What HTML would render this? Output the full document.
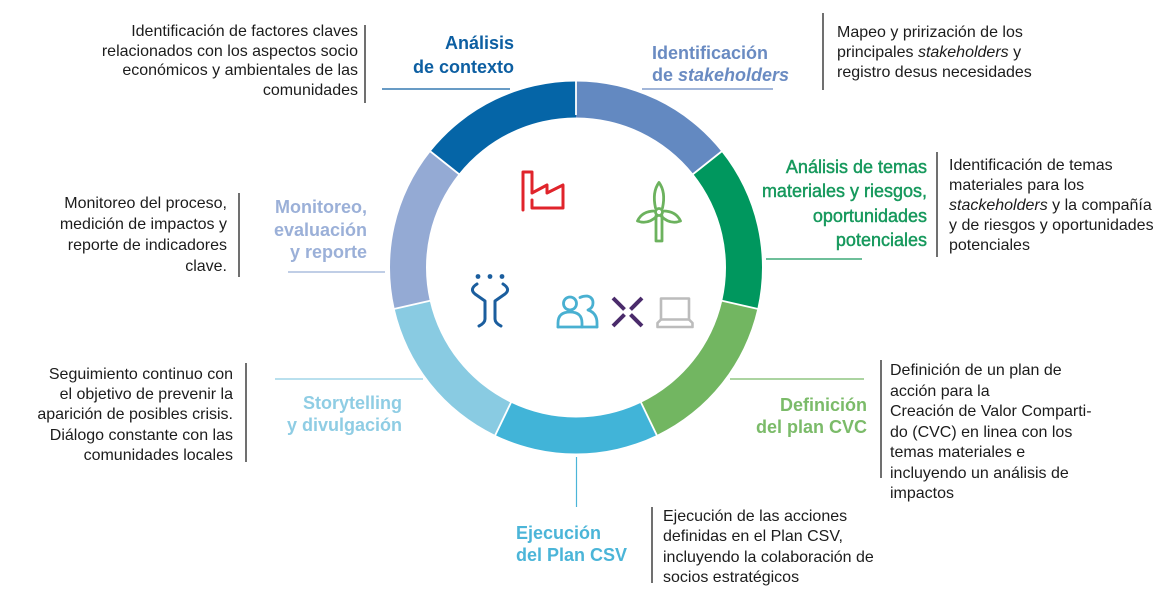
<!DOCTYPE html>
<html>
<head>
<meta charset="utf-8">
<style>
  html,body{margin:0;padding:0;background:#fff;}
  #wrap{position:relative;width:1170px;height:607px;overflow:hidden;background:#fff;font-family:"Liberation Sans",Arial,sans-serif;}
  svg{position:absolute;left:0;top:0;}
  .t{position:absolute;font-size:16px;line-height:20px;color:#1c1c1c;white-space:nowrap;}
  .r{text-align:right;}
  .h{position:absolute;font-size:18px;line-height:23px;font-weight:bold;white-space:nowrap;}
</style>
</head>
<body>
<div id="wrap">
<svg width="1170" height="607" viewBox="0 0 1170 607">
  <!-- ring segments -->
  <path d="M576,81.5 A186,186 0 0 1 721.42,151.53 L693.27,173.98 A150,150 0 0 0 576,117.5 Z" fill="#6389c1"/>
  <path d="M721.42,151.53 A186,186 0 0 1 757.34,308.89 L722.24,300.88 A150,150 0 0 0 693.27,173.98 Z" fill="#00975e"/>
  <path d="M757.34,308.89 A186,186 0 0 1 656.70,435.08 L641.08,402.65 A150,150 0 0 0 722.24,300.88 Z" fill="#72b661"/>
  <path d="M656.70,435.08 A186,186 0 0 1 495.30,435.08 L510.92,402.65 A150,150 0 0 0 641.08,402.65 Z" fill="#41b4d8"/>
  <path d="M495.30,435.08 A186,186 0 0 1 394.66,308.89 L429.76,300.88 A150,150 0 0 0 510.92,402.65 Z" fill="#89cbe2"/>
  <path d="M394.66,308.89 A186,186 0 0 1 430.58,151.53 L458.73,173.98 A150,150 0 0 0 429.76,300.88 Z" fill="#94aad4"/>
  <path d="M430.58,151.53 A186,186 0 0 1 576,81.5 L576,117.5 A150,150 0 0 0 458.73,173.98 Z" fill="#0565a7"/>
  <!-- white separators -->
  <g stroke="#fff" stroke-width="1.8">
    <line x1="576" y1="115" x2="576" y2="79"/>
    <line x1="691.3" y1="175.5" x2="723.4" y2="150"/>
    <line x1="719.8" y1="300.3" x2="759.8" y2="309.4"/>
    <line x1="640" y1="400.4" x2="657.8" y2="437.3"/>
    <line x1="512" y1="400.4" x2="494.2" y2="437.3"/>
    <line x1="432.2" y1="300.3" x2="392.2" y2="309.4"/>
    <line x1="460.7" y1="175.5" x2="428.6" y2="150"/>
  </g>

  <!-- colored connector lines -->
  <line x1="382" y1="89" x2="510" y2="89" stroke="#0d5fa2" stroke-width="1.2"/>
  <line x1="642" y1="89" x2="773" y2="89" stroke="#6a8bc2" stroke-width="1.2"/>
  <line x1="766" y1="259" x2="862" y2="259" stroke="#17995d" stroke-width="1.2"/>
  <line x1="288" y1="272" x2="385" y2="272" stroke="#9bb0d8" stroke-width="1.2"/>
  <line x1="275" y1="379" x2="423" y2="379" stroke="#8fcde4" stroke-width="1.2"/>
  <line x1="730" y1="379" x2="864" y2="379" stroke="#7bbb69" stroke-width="1.2"/>
  <line x1="576.5" y1="457" x2="576.5" y2="507" stroke="#4bb5d8" stroke-width="1.2"/>

  <!-- black separators -->
  <g stroke="#222" stroke-width="1.3">
    <line x1="365" y1="25" x2="365" y2="103"/>
    <line x1="823" y1="13" x2="823" y2="90"/>
    <line x1="937" y1="152" x2="937" y2="257"/>
    <line x1="239" y1="193" x2="239" y2="277"/>
    <line x1="246" y1="363" x2="246" y2="462"/>
    <line x1="881" y1="360" x2="881" y2="478"/>
    <line x1="652" y1="507" x2="652" y2="583"/>
  </g>

  <!-- factory icon -->
  <g fill="none" stroke="#e0242b" stroke-width="3" stroke-linejoin="round" stroke-linecap="round">
    <path d="M523,210 L523,172 L532,172 L532,193 L547,185 L547,193 L563,185 L563,208 L532,208 L532,200"/>
  </g>
  <!-- wind turbine icon -->
  <g fill="none" stroke="#6cb25e" stroke-width="2.8" stroke-linejoin="round" stroke-linecap="round">
    <path d="M656,216 L656,241 L662,241 L662,216"/>
    <path d="M655.5,208 Q652,192 659,182.5 Q666,192 662.5,208"/>
    <path d="M655,211 Q642,211 637.5,221 Q648,225 657,216"/>
    <path d="M663,211 Q676,211 680.5,221 Q670,225 661,216"/>
    <circle cx="659" cy="212" r="3.5"/>
  </g>
  <!-- blue figure icon -->
  <g fill="none" stroke="#1b5e9e" stroke-width="3" stroke-linecap="round" stroke-linejoin="round">
    <path d="M477,284 Q469,289 475,294 L485,301 L485,319 Q485,323 479,326"/>
    <path d="M503,284 Q511,289 505,294 L495,301 L495,319 Q495,323 501,326"/>
  </g>
  <g fill="#1b5e9e">
    <circle cx="478" cy="276.5" r="2.4"/>
    <circle cx="490" cy="276.5" r="2.4"/>
    <circle cx="502" cy="276.5" r="2.4"/>
  </g>
  <!-- people icon -->
  <g fill="none" stroke="#49b0d1" stroke-width="2.8" stroke-linejoin="round" stroke-linecap="round">
    <circle cx="570" cy="303.5" r="6.5"/>
    <path d="M558,327 L558,323 Q558,312 570,312 Q582,312 582,323 L582,327"/>
    <path d="M580,297.5 Q583,296 587,296 Q593,297 593,303 Q593,308 588,310 Q597,313 597,323 L597,327"/>
    <line x1="558" y1="327" x2="597" y2="327"/>
  </g>
  <!-- X icon -->
  <g stroke="#4a2b6b" stroke-width="4" stroke-linecap="butt">
    <line x1="613" y1="298" x2="624.5" y2="309.5"/>
    <line x1="642" y1="298" x2="630.5" y2="309.5"/>
    <line x1="613" y1="326" x2="624.5" y2="314.5"/>
    <line x1="642" y1="326" x2="630.5" y2="314.5"/>
  </g>
  <!-- laptop icon -->
  <g fill="none" stroke="#bcbcbc" stroke-width="2.6" stroke-linejoin="round">
    <rect x="661" y="298.5" width="28" height="21"/>
    <path d="M661,319.5 L657.5,323 L657.5,327 L692.5,327 L692.5,323 L689,319.5"/>
  </g>
</svg>

<!-- Body text blocks -->
<div class="t r" style="right:812px;top:22px;line-height:19.7px;">Identificación de factores claves<br>relacionados con los aspectos socio<br>económicos y ambientales de las<br>comunidades</div>

<div class="t" style="left:837px;top:23px;">Mapeo y prirización de los<br>principales <i>stakeholders</i> y<br>registro desus necesidades</div>

<div class="t" style="left:949px;top:156px;">Identificación de temas<br>materiales para los<br><i>stackeholders</i> y la compañía<br>y de riesgos y oportunidades<br>potenciales</div>

<div class="t r" style="right:943px;top:193px;line-height:21px;">Monitoreo del proceso,<br>medición de impactos y<br>reporte de indicadores<br>clave.</div>

<div class="t r" style="right:937px;top:365px;line-height:20.2px;">Seguimiento continuo con<br>el objetivo de prevenir la<br>aparición de posibles crisis.<br>Diálogo constante con las<br>comunidades locales</div>

<div class="t" style="left:890px;top:361px;line-height:20.5px;">Definición de un plan de<br>acción para la<br>Creación de Valor Comparti-<br>do (CVC) en linea con los<br>temas materiales e<br>incluyendo un análisis de<br>impactos</div>

<div class="t" style="left:663px;top:507px;line-height:20.3px;">Ejecución de las acciones<br>definidas en el Plan CSV,<br>incluyendo la colaboración de<br>socios estratégicos</div>

<!-- Titles -->
<div class="h r" style="right:656px;top:31px;line-height:24px;color:#0d5fa2;">Análisis<br>de contexto</div>

<div class="h" style="left:652px;top:42px;line-height:22px;color:#6a8bc2;">Identificación<br>de <i>stakeholders</i></div>

<div class="h r" style="right:243px;top:155px;line-height:24.3px;font-weight:normal;-webkit-text-stroke:0.45px #17995d;color:#17995d;">Análisis de temas<br>materiales y riesgos,<br>oportunidades<br>potenciales</div>

<div class="h r" style="right:803px;top:196px;line-height:22.5px;color:#9bb0d8;">Monitoreo,<br>evaluación<br>y reporte</div>

<div class="h r" style="right:768px;top:393px;line-height:21.5px;color:#8fcde4;">Storytelling<br>y divulgación</div>

<div class="h r" style="right:303px;top:394px;line-height:22px;color:#7bbb69;">Definición<br>del plan CVC</div>

<div class="h" style="left:516px;top:523px;line-height:21.5px;color:#4bb5d8;">Ejecución<br>del Plan CSV</div>
</div>
</body>
</html>
